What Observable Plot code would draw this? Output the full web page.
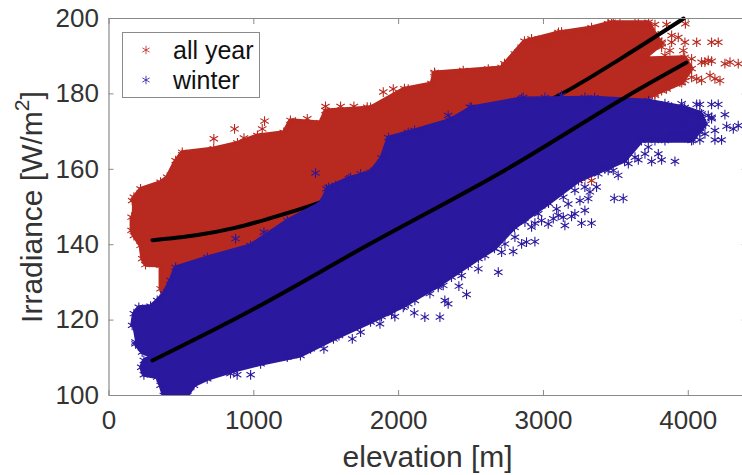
<!DOCTYPE html>
<html>
<head>
<meta charset="utf-8">
<script src="https://cdn.jsdelivr.net/npm/d3@7"></script>
<script src="https://cdn.jsdelivr.net/npm/@observablehq/plot@0.6"></script>
<style>
html,body{margin:0;padding:0;background:#fff;}
#wrap{position:relative;width:742px;height:475px;overflow:hidden;font-family:"Liberation Sans",Arial,sans-serif;}
#legend{position:absolute;left:122px;top:32px;width:136px;height:64px;background:#fff;border:1px solid #8a8a8a;}
#legend .row{position:absolute;left:0;height:30px;line-height:30px;font-size:25px;color:#111;white-space:nowrap;}
#legend .row span{position:absolute;left:50px;}
#legend svg{position:absolute;left:12px;top:4px;}
</style>
</head>
<body>
<div id="wrap"><div id="legend"></div></div>
<script>
const colorAllYear = "#b8291f";
const colorWinter = "#2a189e";

const xTicks = [0, 1000, 2000, 3000, 4000];
const yTicks = [100, 120, 140, 160, 180, 200];
const seriesNames = ["all year", "winter"];

// Outline of the dense all-year cloud (elevation, irradiance)
const redCloudElev = [160,172,218,356,402,460,506,723,887,1025,1207,1253,1460,1495,1806,2040,2227,2248,2711,2731,2869,3104,3332,3470,3726,3769,3816,3693,3975,4023,3955,3769,3700,3000,2000,1000,500,448,414,379,356,356,252,230,218,172,156,156];
const redCloudIrr  = [151.7,152.6,154.8,156.6,157.9,162.3,164.5,165.5,167,169,169.8,173,172.4,175.6,176.4,181.4,182.8,185.7,187,188,194,196.3,197.6,199,199,196,193.3,189.4,189.7,186.7,183,180,178.5,170,150,130,130,133.6,129.2,127.4,128.3,134.5,134.7,136.3,139.8,142.4,143.8,147.3];

// Outline of the dense winter cloud
const blueCloudElev = [160,172,206,287,333,379,425,460,680,977,1232,1460,1516,1668,1806,1882,1930,2110,2352,2503,2849,3353,3726,3975,4080,4120,4023,3677,3560,3242,3035,2800,2662,2551,2275,2040,1806,1550,1322,1047,862,678,586,540,379,356,333,241,223,241,290,229,183];
const blueCloudIrr  = [118.6,121.7,123.4,123.7,125.2,127,130.5,134,136.6,139.8,146.4,150.9,155.2,157.8,159.2,163,168.4,170.3,173,176.4,178.8,179,178.2,176.4,175,172,167.6,167.6,162.3,157,151,144.6,139,136.3,129.2,123.9,119.5,115,110.6,108.4,106.6,104.4,102.7,100,100,102.7,104.9,105.5,107.5,109.3,110.5,111.5,113.7];

// Individually visible all-year markers
const redStarElev = [724,867,1074,1058,932,1288,1369,1495,1599,1691,1783,506,1894,1963,2066,2250,2296,2446,2619,2803,2918,3125,3355,3482,3655,3770,3850,3980,4058,4207,4161,3977,3873,3966,4253,4288,4345,4161,4092,4058,4184,4219,3977,3850,3908,3770,3885,3816,3263,3332,2849,2895,2964,3033,3102,3194,3286,3424,3447,3528,3632,3701,3885,3931,3816,3793,3839,4115,4138,4023,4092,4023,4150,3942,3873,3816,3724];
const redStarIrr  = [168.1,170.7,172.8,170.7,168.3,172.5,173.4,176.7,176.7,176.7,176.5,163.9,180.5,181.3,181.3,185.3,184.9,186.2,186.6,190.6,194.6,196.4,197,198.6,198.6,198.4,198.4,198.6,193.7,193.7,193.7,193.7,191.5,191.5,188,188.4,188,188.7,188.4,184,184,183.5,183.5,181.3,183.5,179.6,193.7,193.7,157.5,157,192.4,193.7,194.2,193.7,195.9,195.9,196.4,196.8,198.6,198.6,198.6,198.1,195.5,195,192.4,194.2,190.2,188.4,188.9,189.3,183.6,184.4,184.9,183.1,182.2,180.9,179.6];

// Individually visible winter markers
const blueStarElev = [4265,4345,4311,4253,4207,4161,4058,4080,4161,4092,4046,4080,4184,4184,4230,4080,4035,3908,3816,3747,3655,3793,3551,3489,3516,3447,3367,3309,3286,3332,3263,3148,3194,3102,3033,2941,3770,3885,3954,3885,3954,3839,2492,2342,2066,2158,1974,2860,3010,3125,3286,2941,2849,2688,2469,2416,2550,2342,2319,2285,2181,2108,1974,1882,1871,2791,2711,2435,978,885,839,1737,1680,1588,1484,1392,1231,183,1426,1502,1565,1657,1737,1795,1070,874,
  2872,2918,2987,3068,3091,3137,3171,3217,3252,3286,3321,3217,3137,3068,3010,2964,3378,3424,3482,3586,3632,3701,3724,3839,3977,4115,4080,4023,4138,4161,4000,4092,3954,3896,
  2032,2066,1951,2112,2216,2273,2308,2365,2412,2481,2504,2596,2676,2734,2803,2883];
const blueStarIrr  = [171.4,171.6,170.7,174.5,177.2,177.2,177.2,177.2,173.8,173.8,171.2,171.2,170.3,167.8,167.8,167.8,167.8,162.1,162.5,162.1,162.5,164.1,152.3,152.3,158.4,159.7,155.3,152.2,149.1,145.7,145.7,145.1,147.5,147.8,145.5,145.7,167.6,168.5,169.4,176.5,177.4,177.4,176.5,174.3,169.8,169.8,168.1,179.1,179.1,179.6,179.1,140.8,140.2,132.7,126.8,129,133.6,124.3,125.2,120.8,120.8,121.9,120.9,120.9,119,138.2,138,131.8,105.5,105.5,105.8,116.8,115,115.9,112.4,112.4,110.2,114.2,159,154.8,155.7,157.5,158.8,158.8,143.3,141.6,
  146,144.7,146.4,146.9,149.5,152.6,150.8,154.4,151.7,155.3,154,148.2,147.3,154,150.8,148.2,158.8,160.1,159.7,161.5,163.2,164.1,165.9,167.6,168.5,169.4,169.8,169.8,174.3,173.4,174.7,174.7,172,169.8,
  123.4,124.3,121.7,125.2,127,128.7,129.2,131.4,133.2,134.5,136.2,137.1,139.8,140.2,142,140.7];

// Fitted curves
const fitAllElev = [300,600,861,1094,1460,2000,2500,3125,3539,3968];
const fitAllIrr  = [141.2,142.5,144.4,146.8,151.2,159.5,168.5,180,189.5,200];
const fitWinterElev = [300,977,1806,2731,3560,3988];
const fitWinterIrr  = [109.3,122.5,140.3,159.7,179,188.3];

const pts = (xs, ys) => xs.map((x, i) => ({x, y: ys[i]}));
const dotOpts = (c) => ({x:"x", y:"y", symbol:"asterisk", r:4.6, stroke:c, strokeWidth:1.1, clip:true});
const axisColor = "#8a8a8a";
const textColor = "#333";

const chart = Plot.plot({
  width: 742,
  height: 475,
  marginLeft: 108.5,
  marginRight: -3.7,
  marginTop: 18,
  marginBottom: 80,
  style: {background:"#fff", fontFamily:'"Liberation Sans",Arial,sans-serif', overflow:"hidden"},
  x: {domain:[0,4400], label:null},
  y: {domain:[100,200], label:null},
  marks: [
    // all year
    Plot.line(pts(redCloudElev, redCloudIrr), {x:"x", y:"y", fill:colorAllYear, stroke:colorAllYear, strokeWidth:4, curve:"linear", clip:true}),
    Plot.dot(pts(redCloudElev, redCloudIrr), dotOpts(colorAllYear)),
    Plot.dot(pts(redStarElev, redStarIrr), dotOpts(colorAllYear)),
    Plot.line(pts(fitAllElev, fitAllIrr), {x:"x", y:"y", stroke:"#000", strokeWidth:4, curve:"catmull-rom"}),
    // winter
    Plot.line(pts(blueCloudElev, blueCloudIrr), {x:"x", y:"y", fill:colorWinter, stroke:colorWinter, strokeWidth:4, curve:"linear", clip:true}),
    Plot.dot(pts(blueCloudElev, blueCloudIrr), dotOpts(colorWinter)),
    Plot.dot(pts(blueStarElev, blueStarIrr), dotOpts(colorWinter)),
    Plot.line(pts(fitWinterElev, fitWinterIrr), {x:"x", y:"y", stroke:"#000", strokeWidth:4, curve:"catmull-rom"}),
    // box
    Plot.ruleY([100,200], {stroke:axisColor, strokeWidth:1.2}),
    Plot.ruleX([0], {stroke:axisColor, strokeWidth:1.2}),
    // inward ticks
    Plot.axisX(xTicks, {anchor:"bottom", tickSize:-5, tickFormat:()=>"", stroke:axisColor, label:null}),
    Plot.axisX(xTicks, {anchor:"top", tickSize:-5, tickFormat:()=>"", stroke:axisColor, label:null}),
    Plot.axisY(yTicks, {anchor:"left", tickSize:-5, tickFormat:()=>"", stroke:axisColor, label:null}),
    Plot.axisY(yTicks, {anchor:"right", tickSize:-5, tickFormat:()=>"", stroke:axisColor, label:null}),
    // tick labels
    Plot.text(xTicks, {x:d=>d, frameAnchor:"bottom", text:d=>String(d), dy:25, lineAnchor:"middle", fontSize:26, fill:textColor}),
    Plot.text(yTicks, {y:d=>d, frameAnchor:"left", text:d=>String(d), dx:-10, textAnchor:"end", lineAnchor:"middle", fontSize:26, fill:textColor}),
    // axis titles
    Plot.text(["elevation [m]"], {frameAnchor:"bottom", text:d=>d, dy:62, lineAnchor:"middle", fontSize:30, fill:textColor}),
    Plot.text(["Irradiance [W/m²]"], {frameAnchor:"left", text:d=>d, rotate:-90, dx:-77, textAnchor:"middle", lineAnchor:"middle", fontSize:30, fill:textColor})
  ]
});
document.getElementById("wrap").prepend(chart);

// real superscript in the y title
d3.select(chart).selectAll("text").filter(function () { return this.textContent === "Irradiance [W/m²]"; }).each(function () {
  const t = d3.select(this);
  t.text("Irradiance [W/m");
  t.append("tspan").attr("dy", -13).attr("font-size", 21).text("2");
  t.append("tspan").attr("dy", 13).text("]");
});

// legend
const legend = document.getElementById("legend");
const starPath = d3.symbol(d3.symbolAsterisk, 50)();
seriesNames.forEach((name, i) => {
  const row = document.createElement("div");
  row.className = "row";
  row.style.top = (2 + i * 30) + "px";
  row.innerHTML = `<svg width="22" height="22" viewBox="-11 -11 22 22"><path d="${starPath}" fill="none" stroke="${i ? colorWinter : colorAllYear}" stroke-width="1" opacity="0.8"></path></svg><span>${name}</span>`;
  legend.appendChild(row);
});
</script>
</body>
</html>
